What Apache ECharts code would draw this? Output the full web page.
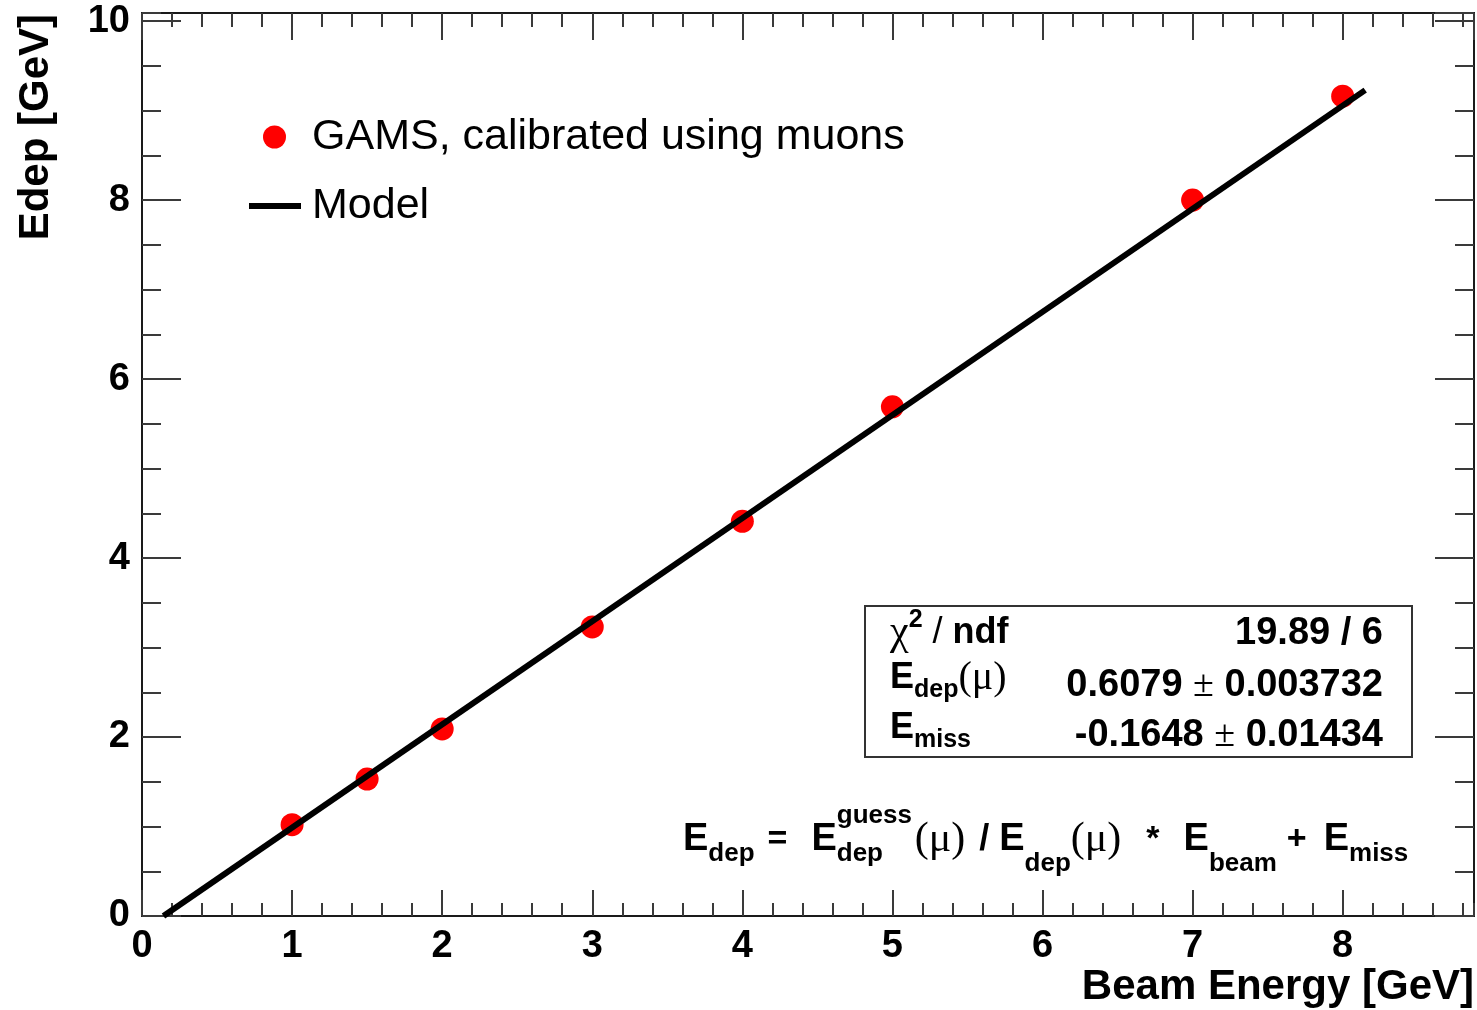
<!DOCTYPE html>
<html>
<head>
<meta charset="utf-8">
<title>Edep vs Beam Energy</title>
<script src="https://cdn.jsdelivr.net/npm/echarts@6/dist/echarts.min.js"></script>
<style>
  html, body { margin: 0; padding: 0; background: #fff; }
  #chart { width: 1477px; height: 1010px; }
</style>
</head>
<body>
<div id="chart"></div>
<script>
// Measured deposited energy (GAMS, muon calibration) per beam energy
const beamEnergy = [1, 1.5, 2, 3, 4, 5, 7, 8];
const edep = [1.02, 1.53, 2.09, 3.23, 4.41, 5.69, 8.0, 9.16];

// Fitted linear model, drawn between its two end points
const modelX = [0.143, 8.15];
const modelY = [0, 9.228];

// Tick labels
const xTickLabels = ['0', '1', '2', '3', '4', '5', '6', '7', '8'];
const yTickLabels = ['0', '2', '4', '6', '8', '10'];

// Fit results box: parameter name, value
const fitRows = [
  ['{chi|χ}{sup|2}{r| / }{b|ndf}', '{n|19.89 / 6}'],
  ['{b|E}{sub|dep}{mu|(μ)}', '{n|0.6079 }{pm|±}{n| 0.003732}'],
  ['{b|E}{sub|miss}', '{n|-0.1648 }{pm|±}{n| 0.01434}']
];

const SANS = 'Liberation Sans, Arial, Helvetica, sans-serif';
const SERIF = 'Liberation Serif, DejaVu Serif, serif';
const frameColor = '#1a1a1a';
const tickColor = '#3a3a3a';

const X_MIN = 0, X_MAX = 8.875;
const Y_MIN = 0, Y_MAX = 10.09;

function labelFmt(list) {
  return function (v) {
    const s = String(Math.round(v * 1000) / 1000);
    return list.indexOf(s) >= 0 ? s : '';
  };
}

function xAxisDef(position, interval, tickLen, withLabels) {
  return {
    type: 'value', min: X_MIN, max: X_MAX, interval: interval, position: position,
    axisLine: { show: true, onZero: false, lineStyle: { color: frameColor, width: 2 } },
    axisTick: { show: true, inside: true, length: tickLen, lineStyle: { color: tickColor, width: 2 } },
    axisLabel: withLabels ? {
      show: true, formatter: labelFmt(xTickLabels), color: '#000',
      fontSize: 38, fontWeight: 'bold', fontFamily: SANS, margin: 12,
      showMinLabel: true, showMaxLabel: false, hideOverlap: false
    } : { show: false },
    splitLine: { show: false }
  };
}

function yAxisDef(position, interval, tickLen, withLabels) {
  return {
    type: 'value', min: Y_MIN, max: Y_MAX, interval: interval, position: position,
    axisLine: { show: true, onZero: false, lineStyle: { color: frameColor, width: 2 } },
    axisTick: { show: true, inside: true, length: tickLen, lineStyle: { color: tickColor, width: 2 } },
    axisLabel: withLabels ? {
      show: true, formatter: labelFmt(yTickLabels), color: '#000',
      fontSize: 38, fontWeight: 'bold', fontFamily: SANS, margin: 12,
      showMinLabel: true, showMaxLabel: false, hideOverlap: false
    } : { show: false },
    splitLine: { show: false }
  };
}

const chart = echarts.init(document.getElementById('chart'), null, { renderer: 'canvas' });

const fitRich = {
  b: { fontSize: 36, fontWeight: 'bold', fontFamily: SANS, lineHeight: 50, fill: '#000' },
  r: { fontSize: 36, fontFamily: SANS, lineHeight: 50, fill: '#000' },
  n: { fontSize: 38, fontWeight: 'bold', fontFamily: SANS, lineHeight: 50, fill: '#000' },
  pm: { fontSize: 38, fontFamily: SERIF, lineHeight: 50, fill: '#000' },
  chi: { fontSize: 42, fontFamily: SERIF, lineHeight: 50, fill: '#000' },
  mu: { fontSize: 40, fontFamily: SERIF, lineHeight: 50, fill: '#000' },
  sub: { fontSize: 25, fontWeight: 'bold', fontFamily: SANS, lineHeight: 22, verticalAlign: 'bottom', fill: '#000' },
  sup: { fontSize: 25, fontWeight: 'bold', fontFamily: SANS, lineHeight: 22, verticalAlign: 'top', fill: '#000' }
};

const fitText = [];
const rowY = [633, 678, 728];
fitRows.forEach(function (row, i) {
  fitText.push({
    type: 'text', x: 890, y: rowY[i], z: 101,
    style: { text: row[0], align: 'left', verticalAlign: 'middle', fill: '#000', rich: fitRich }
  });
  fitText.push({
    type: 'text', x: 1383, y: rowY[i] + (i === 0 ? 1 : 8), z: 101,
    style: { text: row[1], align: 'right', verticalAlign: 'middle', fill: '#000', rich: fitRich }
  });
});

// Model formula with super/subscripts; top padding pushes a subscript down by half its amount
const formulaRich = {
  E: { fontSize: 38, fontWeight: 'bold', fontFamily: SANS, lineHeight: 58, fill: '#000' },
  eq: { fontSize: 34, fontWeight: 'bold', fontFamily: SANS, lineHeight: 58, padding: [0, 24, 0, 13], fill: '#000' },
  sl: { fontSize: 36, fontWeight: 'bold', fontFamily: SANS, lineHeight: 58, padding: [0, 10, 0, 14], fill: '#000' },
  st: { fontSize: 34, fontWeight: 'bold', fontFamily: SANS, lineHeight: 58, padding: [0, 24, 0, 25], fill: '#000' },
  pl: { fontSize: 34, fontWeight: 'bold', fontFamily: SANS, lineHeight: 58, padding: [0, 17, 0, 10], fill: '#000' },
  mu: { fontSize: 42, fontFamily: SERIF, lineHeight: 58, fill: '#000' },
  sub: { fontSize: 26, fontWeight: 'bold', fontFamily: SANS, lineHeight: 24, padding: [28, 0, 0, 0], fill: '#000' },
  subLow: { fontSize: 26, fontWeight: 'bold', fontFamily: SANS, lineHeight: 24, padding: [48, 0, 0, 0], fill: '#000' },
  subw: { fontSize: 26, fontWeight: 'bold', fontFamily: SANS, lineHeight: 24, padding: [28, 0, 0, 0], width: 78, fill: '#000' },
  sup: { fontSize: 26, fontWeight: 'bold', fontFamily: SANS, lineHeight: 24, padding: [0, 0, 48, 0], width: 0.001, fill: '#000' }
};

chart.setOption({
  backgroundColor: '#fff',
  animation: false,
  grid: { left: 142, right: 3, top: 13, bottom: 94, containLabel: false },
  xAxis: [
    xAxisDef('bottom', 1, 26, true),
    xAxisDef('bottom', 0.2, 13, false),
    xAxisDef('top', 1, 27, false),
    xAxisDef('top', 0.2, 14, false)
  ],
  yAxis: [
    yAxisDef('left', 2, 39, true),
    yAxisDef('left', 0.5, 19, false),
    yAxisDef('right', 2, 39, false),
    yAxisDef('right', 0.5, 19, false)
  ],
  legend: [
    {
      selectedMode: false, left: 263, top: 113, padding: 0, orient: 'vertical',
      itemWidth: 23, itemHeight: 23,
      data: [{ name: 'GAMS, calibrated using muons', icon: 'circle', itemStyle: { color: '#ff0000', opacity: 1 } }],
      textStyle: { fontSize: 43, fontFamily: SANS, color: '#000', lineHeight: 48, padding: [0, 0, 0, 21] }
    },
    {
      selectedMode: false, left: 249, top: 182, padding: 0, orient: 'vertical',
      itemWidth: 52, itemHeight: 6,
      data: [{ name: 'Model', icon: 'rect', itemStyle: { color: '#000' } }],
      textStyle: { fontSize: 43, fontFamily: SANS, color: '#000', lineHeight: 48, padding: [0, 0, 0, 6] }
    }
  ],
  series: [
    {
      name: 'GAMS, calibrated using muons', type: 'scatter',
      xAxisIndex: 0, yAxisIndex: 0,
      data: beamEnergy.map(function (x, i) { return [x, edep[i]]; }),
      symbol: 'circle', symbolSize: 23,
      itemStyle: { color: '#ff0000', opacity: 1 }, z: 3
    },
    {
      name: 'Model', type: 'line',
      xAxisIndex: 0, yAxisIndex: 0,
      data: modelX.map(function (x, i) { return [x, modelY[i]]; }),
      showSymbol: false, symbol: 'none', clip: true,
      lineStyle: { color: '#000', width: 6 },
      itemStyle: { color: '#000' }, z: 4
    }
  ],
  graphic: [
    {
      type: 'text', x: 36, y: 14, rotation: Math.PI / 2, z: 100,
      style: { text: 'Edep [GeV]', align: 'right', verticalAlign: 'middle', fill: '#000', font: 'bold 42px ' + SANS }
    },
    {
      type: 'text', x: 1474, y: 987, z: 100,
      style: { text: 'Beam Energy [GeV]', align: 'right', verticalAlign: 'middle', fill: '#000', font: 'bold 42px ' + SANS }
    },
    {
      type: 'rect', z: 100,
      shape: { x: 865, y: 606, width: 547, height: 151 },
      style: { fill: '#fff', stroke: '#333', lineWidth: 2 }
    }
  ].concat(fitText).concat([
    {
      type: 'text', x: 683, y: 840, z: 100,
      style: {
        text: '{E|E}{sub|dep}{eq|=}{E|E}{sup|guess}{subw|dep}{mu|(μ)}{sl|/}{E|E}{subLow|dep}{mu|(μ)}{st|*}{E|E}{subLow|beam}{pl|+}{E|E}{sub|miss}',
        align: 'left', verticalAlign: 'middle', fill: '#000',
        rich: formulaRich
      }
    }
  ])
});
</script>
</body>
</html>
